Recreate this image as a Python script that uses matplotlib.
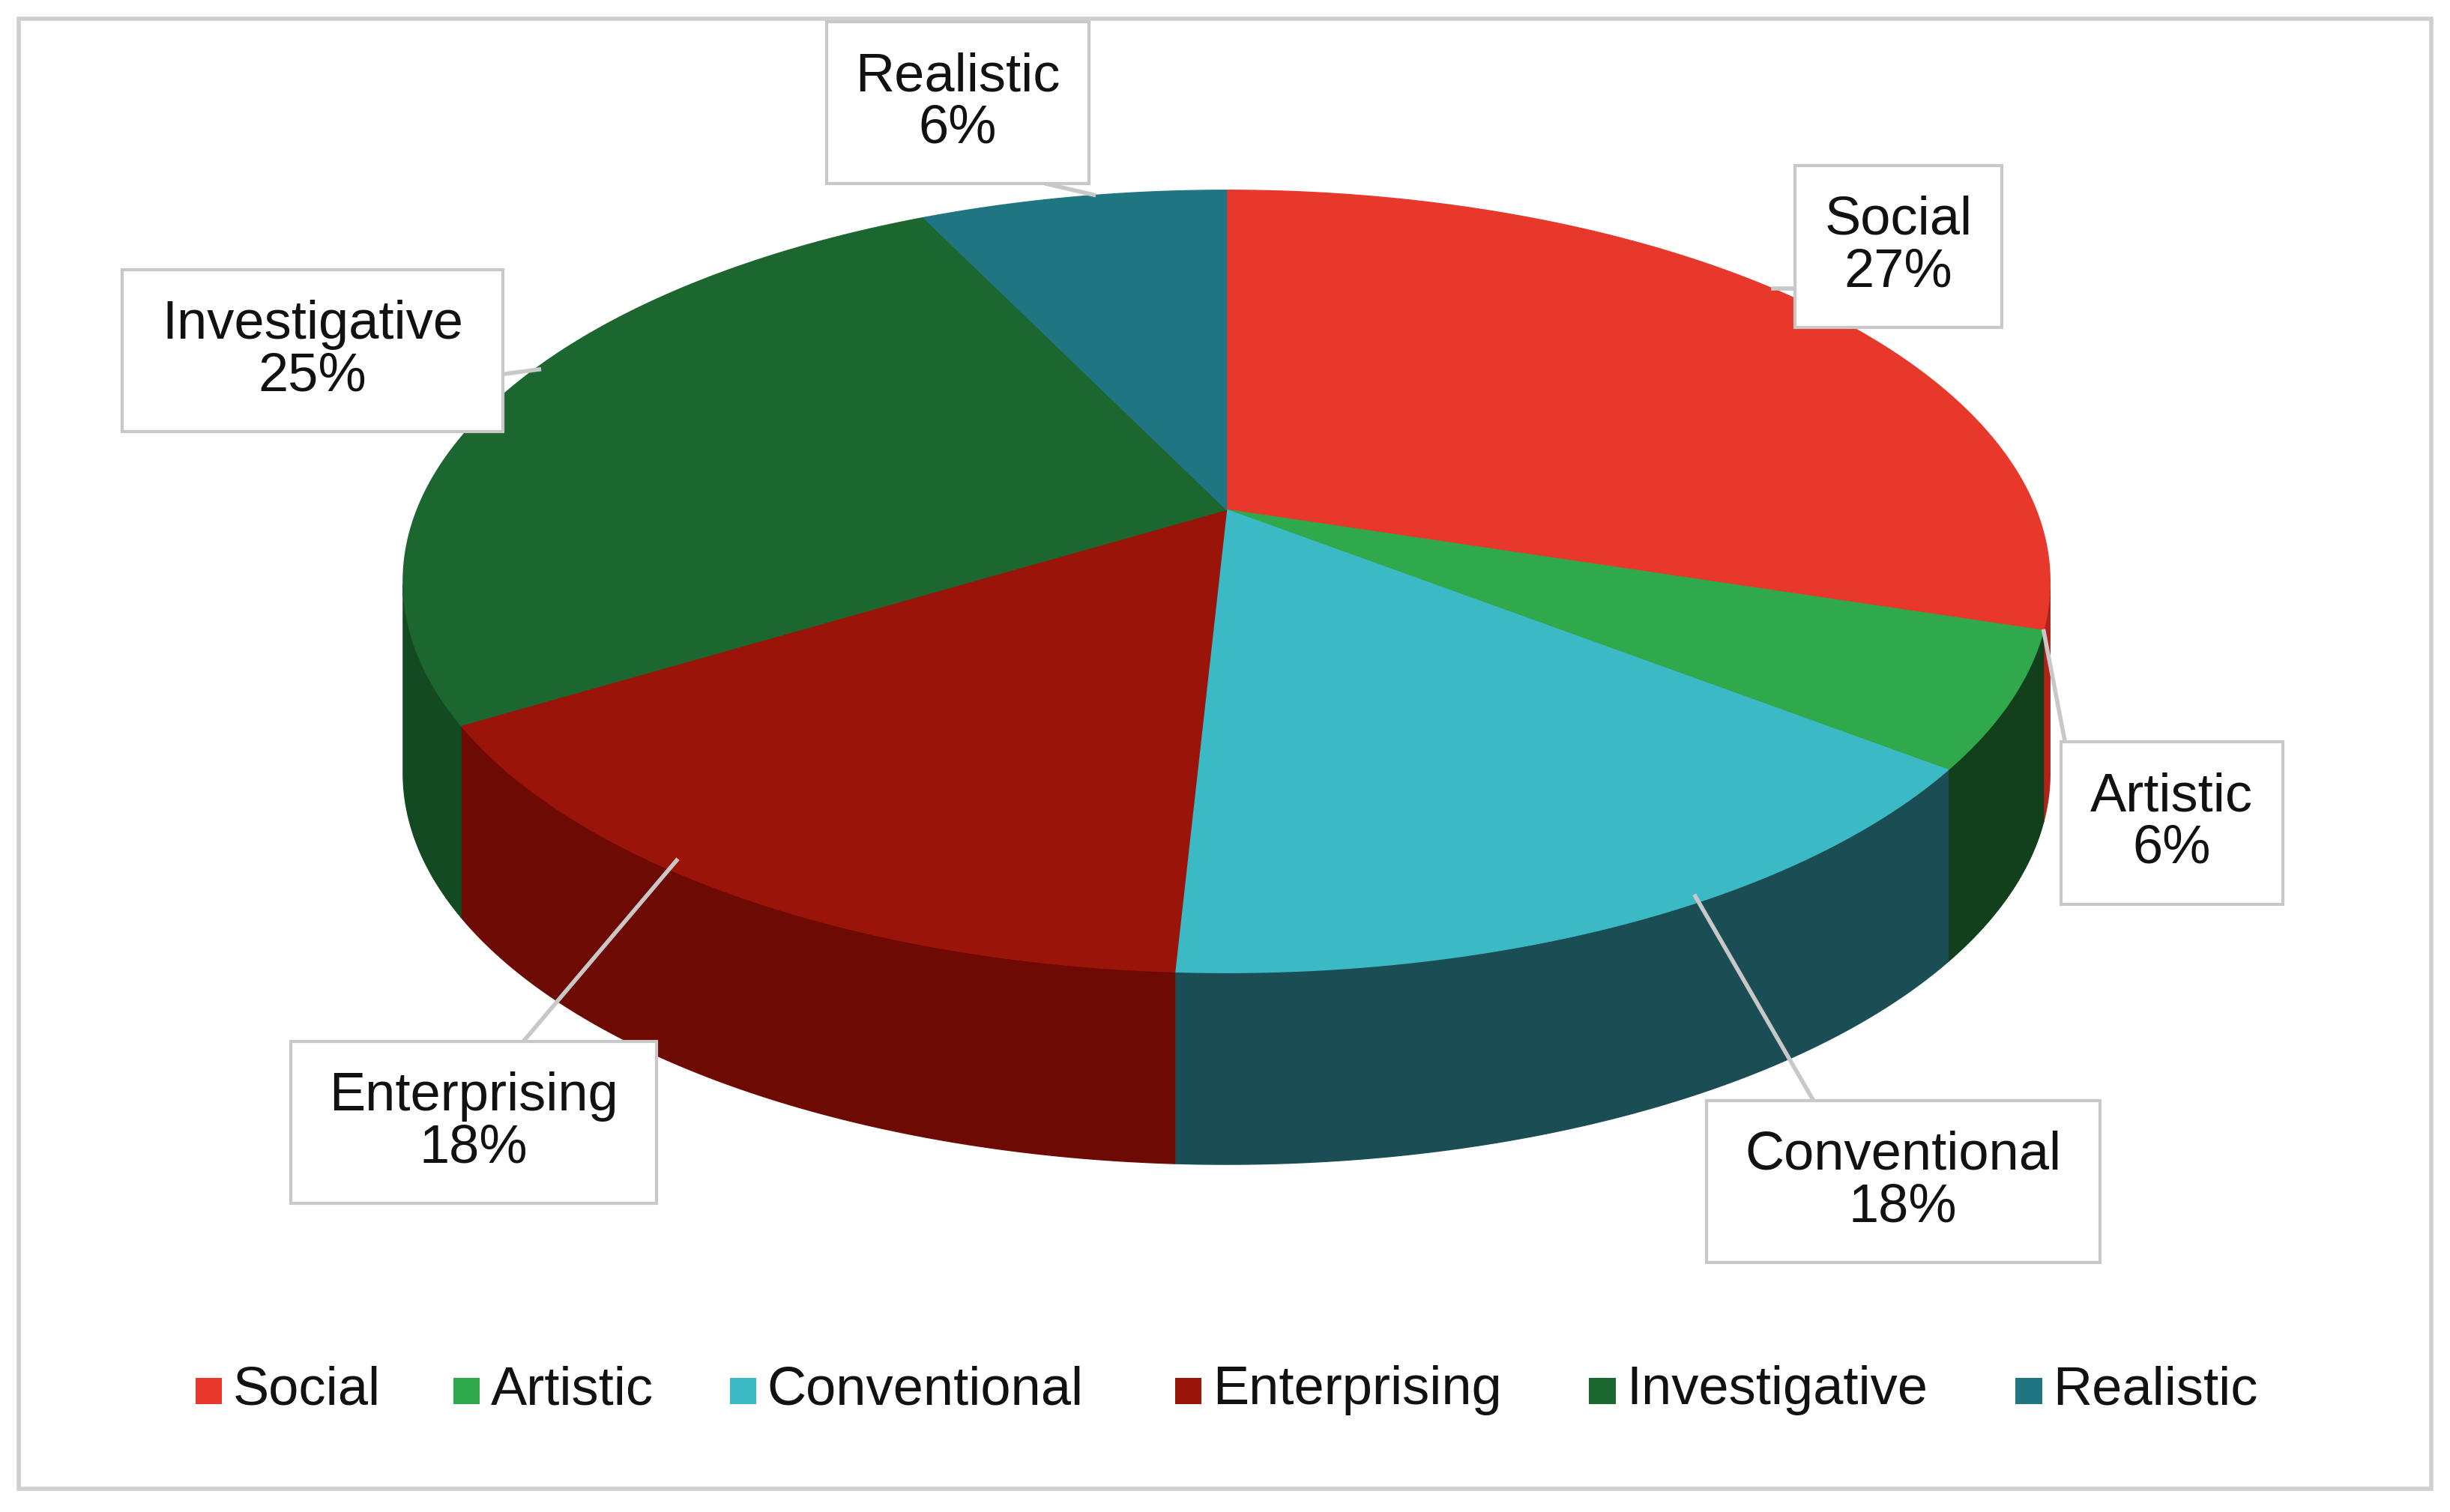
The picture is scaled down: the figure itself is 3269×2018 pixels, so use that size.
import numpy as np
import matplotlib
matplotlib.use("Agg")
import matplotlib.pyplot as plt
from matplotlib.patches import Polygon, Rectangle

categories = ["Social", "Artistic", "Conventional", "Enterprising", "Investigative", "Realistic"]
values = [27, 6, 18, 18, 25, 6]
top_colors = ["#e8372b", "#2fa94b", "#3bbac6", "#9a1409", "#1c6630", "#1f7582"]
side_colors = ["#b32218", "#123f1c", "#1b4d55", "#6e0a04", "#134a22", "#164f58"]

plt.rcParams['font.family'] = ['Liberation Sans', 'DejaVu Sans']
fig = plt.figure(figsize=(32.69, 20.18), dpi=100)
ax = fig.add_axes([0, 0, 1, 1])
ax.set_xlim(0, 1568); ax.set_ylim(970, 0); ax.axis('off')

cx, cy, rx, ry, depth = 785, 373, 527, 251, 123
apex = (785, 327)

def rim(t):
    return cx + rx * np.cos(t), cy - ry * np.sin(t)

fr = np.array(values) / sum(values)
starts = np.pi / 2 - 2 * np.pi * np.concatenate([[0], np.cumsum(fr)[:-1]])
ends = starts - 2 * np.pi * fr

# side walls (front half: sin t < 0)
for s, e, c in zip(starts, ends, side_colors):
    t = np.linspace(s, e, 200)
    t = t[np.sin(t) <= 0]
    if len(t) < 2:
        continue
    x, y = rim(t)
    pts = np.vstack([np.c_[x, y], np.c_[x[::-1], y[::-1] + depth]])
    ax.add_patch(Polygon(pts, closed=True, fc=c, ec=c, lw=1, zorder=1))
# tops
for s, e, c in zip(starts, ends, top_colors):
    t = np.linspace(s, e, 200)
    x, y = rim(t)
    pts = np.vstack([[apex], np.c_[x, y]])
    ax.add_patch(Polygon(pts, closed=True, fc=c, ec=c, lw=1, zorder=2))

# labels
label_pos = [(1215, 158), (1390, 528), (1218, 758), (303, 720), (200, 225), (613, 66)]
box_size = [(132, 104), (142, 104), (252, 104), (234, 104), (244, 104), (168, 104)]
lines = [((1150, 185), (1135, 185)), ((1322, 478), (1308, 405)), ((1160, 705), (1085, 575)),
         ((335, 668), (433, 552)), ((322, 240), (345, 237)), ((670, 118), (700, 125))]
for cat, v, (lx, ly), (bw, bh), (p0, p1) in zip(categories, values, label_pos, box_size, lines):
    ax.plot([p0[0], p1[0]], [p0[1], p1[1]], color="#c8c8c8", lw=4, zorder=3)
    ax.add_patch(Rectangle((lx - bw / 2, ly - bh / 2), bw, bh, fc="white", ec="#c8c8c8", lw=3, zorder=4))
    ax.text(lx, ly, f"{cat}\n{v}%", ha="center", va="center", fontsize=52, zorder=5,
            linespacing=1.05, color="#111111")

# legend
lx = [125, 290, 467, 752, 1017, 1290]
for x, cat, c in zip(lx, categories, top_colors):
    ax.add_patch(Rectangle((x, 884), 17, 17, fc=c, ec="none"))
    ax.text(x + 24, 892, cat, ha="left", va="center", fontsize=52, color="#111111")

ax.add_patch(Rectangle((12, 12), 1544, 943, fc="none", ec="#cfcfcf", lw=4))
fig.savefig("out.png", dpi=100)
